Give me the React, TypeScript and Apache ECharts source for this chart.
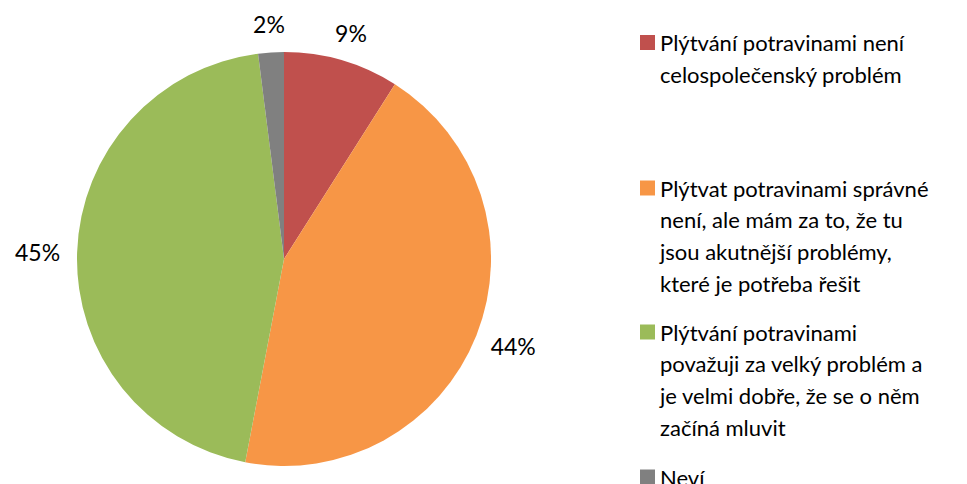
import React, { useEffect, useRef } from "react";
import * as echarts from "echarts";

const categories = [
  "Plýtvání potravinami není celospolečenský problém",
  "Plýtvat potravinami správné není, ale mám za to, že tu jsou akutnější problémy, které je potřeba řešit",
  "Plýtvání potravinami považuji za velký problém a je velmi dobře, že se o něm začíná mluvit",
  "Neví",
];
const legendLines = [
  ["Plýtvání potravinami není", "celospolečenský problém"],
  ["Plýtvat potravinami správné", "není, ale mám za to, že tu", "jsou akutnější problémy,", "které je potřeba řešit"],
  ["Plýtvání potravinami", "považuji za velký problém a", "je velmi dobře, že se o něm", "začíná mluvit"],
  ["Neví"],
];
const values = [9, 44, 45, 2];
const colors = ["#C0504D", "#F79646", "#9BBB59", "#808080"];

const FONT = "Lato";
const FS = 22;
const LH = 31.7;
const CX = 284;
const CY = 259;
const R = 207;
const GAP = 17;
const legendFirstLineY = [42.5, 188, 332, 477];

export default function App() {
  const ref = useRef<HTMLDivElement>(null);
  useEffect(() => {
    if (!ref.current) return;
    const chart = echarts.init(ref.current, undefined, { renderer: "svg" });
    const total = values.reduce((a, b) => a + b, 0);
    const starts: number[] = [];
    let acc = 0;
    values.forEach((v) => {
      starts.push(acc);
      acc += v;
    });
    chart.setOption({
      animation: false,
      backgroundColor: "#ffffff",
      legend: legendLines.map((lines, i) => ({
        orient: "vertical",
        left: 640,
        top: legendFirstLineY[i] - ((2 * lines.length - 1) * LH) / 2,
        padding: 0,
        itemWidth: 15,
        itemHeight: 15,
        itemGap: 0,
        icon: "rect",
        selectedMode: false,
        data: [categories[i]],
        formatter: () => "\n".repeat(lines.length - 1) + lines.join("\n"),
        textStyle: { fontFamily: FONT, fontSize: FS, lineHeight: LH, color: "#000000" },
      })),
      series: [
        {
          type: "pie",
          center: [CX, CY],
          radius: R,
          startAngle: 90,
          clockwise: true,
          avoidLabelOverlap: false,
          color: colors,
          data: categories.map((name, i) => ({ name, value: values[i] })),
          label: {
            show: true,
            position: "outside",
            formatter: (p: any) => `${Math.round(p.value)}%`,
            fontFamily: FONT,
            fontSize: FS + 1,
            color: "#000000",
          },
          labelLine: { show: false },
          itemStyle: { borderWidth: 0 },
          emphasis: { disabled: true },
          labelLayout: (p: any) => {
            const i = p.dataIndex;
            const mid = ((starts[i] + values[i] / 2) / total) * Math.PI * 2;
            const s = Math.sin(mid);
            const c = Math.cos(mid);
            const w = p.labelRect.width;
            const h = p.labelRect.height;
            const d = R + GAP;
            return {
              x: CX + d * s + (s * w) / 2,
              y: CY - d * c - (c * h) / 2,
              align: "center",
              verticalAlign: "middle",
            };
          },
        },
      ],
    });
    return () => chart.dispose();
  }, []);
  return (
    <div
      ref={ref}
      style={{ position: "fixed", left: 0, top: 0, width: 967, height: 484 }}
    />
  );
}
